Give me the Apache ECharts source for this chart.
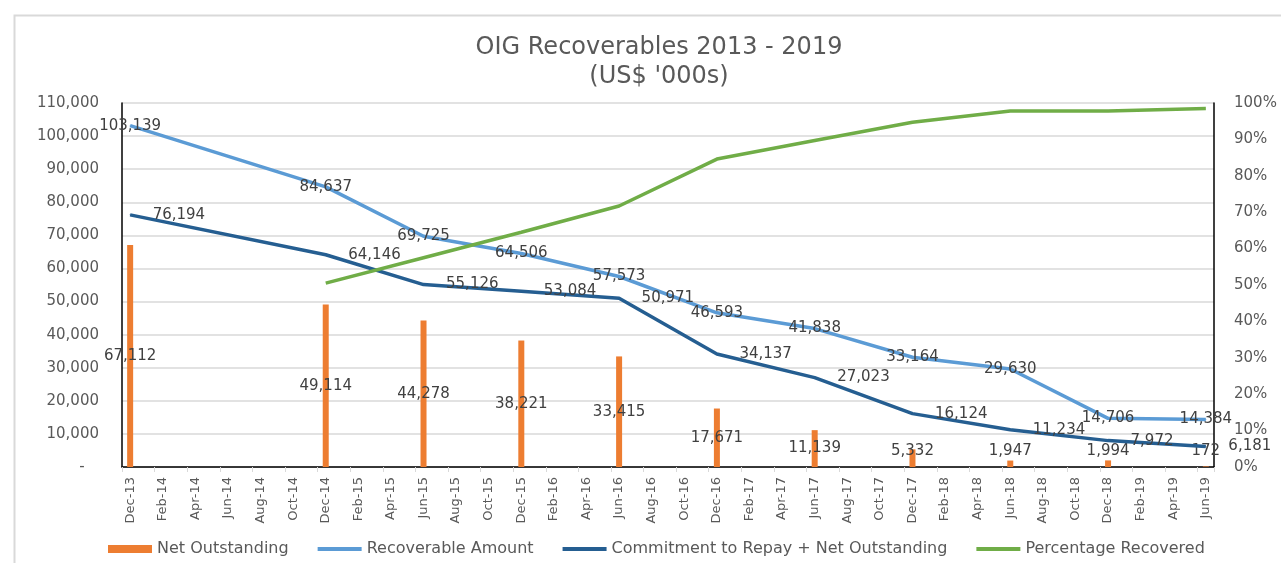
<!DOCTYPE html>
<html>
<head>
<meta charset="utf-8">
<script src="https://cdn.jsdelivr.net/npm/echarts@6/dist/echarts.min.js"></script>
<style>
  html, body { margin: 0; padding: 0; background: #ffffff; }
  #chart { width: 1281px; height: 563px; }
</style>
</head>
<body>
<div id="chart"></div>
<script>
// ---- Data ----
const monthNames = ['Jan','Feb','Mar','Apr','May','Jun','Jul','Aug','Sep','Oct','Nov','Dec'];
const startMonth = { year: 2013, month: 11 };   // Dec-13
const endMonth = { year: 2019, month: 5 };      // Jun-19

const dataMonths = ['Dec-13','Dec-14','Jun-15','Dec-15','Jun-16','Dec-16','Jun-17','Dec-17','Jun-18','Dec-18','Jun-19'];
const netOutstanding = [67112, 49114, 44278, 38221, 33415, 17671, 11139, 5332, 1947, 1994, 172];
const recoverableAmount = [103139, 84637, 69725, 64506, 57573, 46593, 41838, 33164, 29630, 14706, 14384];
const commitmentPlusNet = [76194, 64146, 55126, 53084, 50971, 34137, 27023, 16124, 11234, 7972, 6181];
const percentageRecovered = [null, 50.5, 57.5, 64.5, 71.7, 84.6, 89.7, 94.7, 97.8, 97.8, 98.5];

const seriesNames = ['Net Outstanding', 'Recoverable Amount', 'Commitment to Repay + Net Outstanding', 'Percentage Recovered'];
const titleText = "OIG Recoverables 2013 - 2019\n(US$ '000s)";

// ---- Build monthly category axis ----
const categories = [];
for (let y = startMonth.year, m = startMonth.month; y < endMonth.year || (y === endMonth.year && m <= endMonth.month); ) {
  categories.push(monthNames[m] + '-' + String(y).slice(2));
  m++; if (m > 11) { m = 0; y++; }
}
function toMonthly(values) {
  const arr = categories.map(() => null);
  dataMonths.forEach((d, i) => {
    const idx = categories.indexOf(d);
    if (idx >= 0) arr[idx] = values[i];
  });
  return arr;
}

const fontFamily = '"DejaVu Sans", Verdana, sans-serif';
const gray = '#595959';
const labelGray = '#404040';

const barData = toMonthly(netOutstanding).map(v => {
  if (v === null) return null;
  if (v < 9000) return { value: v, label: { position: 'insideBottom', distance: 8 } };
  return v;
});

const fmt = v => Number(v).toLocaleString('en-US');

const chart = echarts.init(document.getElementById('chart'), null, { renderer: 'canvas' });
chart.setOption({
  backgroundColor: '#ffffff',
  animation: false,
  textStyle: { fontFamily: fontFamily },
  graphic: [{
    type: 'rect', left: 12, top: 13, silent: true, z: -10,
    shape: { width: 1300, height: 600 },
    style: { fill: 'none', stroke: '#d9d9d9', lineWidth: 2 }
  }],
  title: {
    text: titleText,
    left: 654, top: 28, textAlign: 'center',
    textStyle: { fontFamily: fontFamily, fontSize: 24, fontWeight: 'normal', color: gray, lineHeight: 29 }
  },
  legend: {
    left: 103, top: 536,
    itemWidth: 44, itemHeight: 8, itemGap: 27,
    lineStyle: { width: 4 },
    textStyle: { fontFamily: fontFamily, fontSize: 16, color: gray },
    data: [
      { name: seriesNames[0], icon: 'rect' },
      { name: seriesNames[1], itemStyle: { opacity: 0 }, lineStyle: { width: 4 } },
      { name: seriesNames[2], itemStyle: { opacity: 0 }, lineStyle: { width: 4 } },
      { name: seriesNames[3], itemStyle: { opacity: 0 }, lineStyle: { width: 4 } }
    ]
  },
  grid: { left: 122, right: 67, top: 103, bottom: 96, containLabel: false },
  xAxis: [{
    type: 'category',
    data: categories,
    boundaryGap: true,
    axisLine: { show: true, lineStyle: { color: '#d9d9d9', width: 1 } },
    axisTick: { show: true, interval: 1, length: 5, lineStyle: { color: '#d9d9d9' } },
    axisLabel: { interval: 1, rotate: 90, fontSize: 13, color: gray, margin: 10, fontFamily: fontFamily },
    splitLine: { show: false }
  }, {
    type: 'category',
    data: categories,
    position: 'top',
    boundaryGap: true,
    axisLine: { show: true, lineStyle: { color: '#000000', width: 1.5 } },
    axisTick: { show: false },
    axisLabel: { show: false },
    splitLine: { show: false }
  }],
  yAxis: [{
    type: 'value',
    min: 0, max: 110000, interval: 10000,
    axisLine: { show: true, lineStyle: { color: '#000000', width: 1.5 } },
    axisTick: { show: false },
    axisLabel: {
      fontSize: 15, color: gray, margin: 23, fontFamily: fontFamily,
      formatter: v => v === 0 ? '-   ' : fmt(v)
    },
    splitLine: { show: true, lineStyle: { color: '#d9d9d9', width: 1.5 } }
  }, {
    type: 'value',
    min: 0, max: 100, interval: 10,
    position: 'right',
    axisLine: { show: true, lineStyle: { color: '#000000', width: 1.5 } },
    axisTick: { show: false },
    axisLabel: { fontSize: 15, color: gray, margin: 20, fontFamily: fontFamily, formatter: '{value}%' },
    splitLine: { show: false }
  }],
  series: [{
    name: seriesNames[0],
    type: 'bar',
    xAxisIndex: 0, yAxisIndex: 0,
    data: barData,
    barWidth: 6,
    itemStyle: { color: '#ED7D31' },
    label: {
      show: true, position: 'inside', color: labelGray, fontSize: 15, fontFamily: fontFamily,
      formatter: p => fmt(p.value)
    },
    z: 2
  }, {
    name: seriesNames[1],
    type: 'line',
    xAxisIndex: 0, yAxisIndex: 0,
    data: toMonthly(recoverableAmount),
    connectNulls: true,
    symbol: 'circle', symbolSize: 1, showAllSymbol: true,
    lineStyle: { color: '#5B9BD5', width: 3.5 },
    itemStyle: { color: '#5B9BD5' },
    label: {
      show: true, position: 'inside', color: labelGray, fontSize: 15, fontFamily: fontFamily,
      formatter: p => fmt(p.value)
    },
    z: 3
  }, {
    name: seriesNames[2],
    type: 'line',
    xAxisIndex: 0, yAxisIndex: 0,
    data: toMonthly(commitmentPlusNet),
    connectNulls: true,
    symbol: 'circle', symbolSize: 1, showAllSymbol: true,
    lineStyle: { color: '#255E91', width: 3.5 },
    itemStyle: { color: '#255E91' },
    label: {
      show: true, position: 'right', distance: 22, color: labelGray, fontSize: 15, fontFamily: fontFamily,
      formatter: p => fmt(p.value)
    },
    z: 3
  }, {
    name: seriesNames[3],
    type: 'line',
    xAxisIndex: 0, yAxisIndex: 1,
    data: toMonthly(percentageRecovered),
    connectNulls: true,
    symbol: 'none',
    lineStyle: { color: '#70AD47', width: 3.5 },
    itemStyle: { color: '#70AD47' },
    z: 3
  }]
});
</script>
</body>
</html>
